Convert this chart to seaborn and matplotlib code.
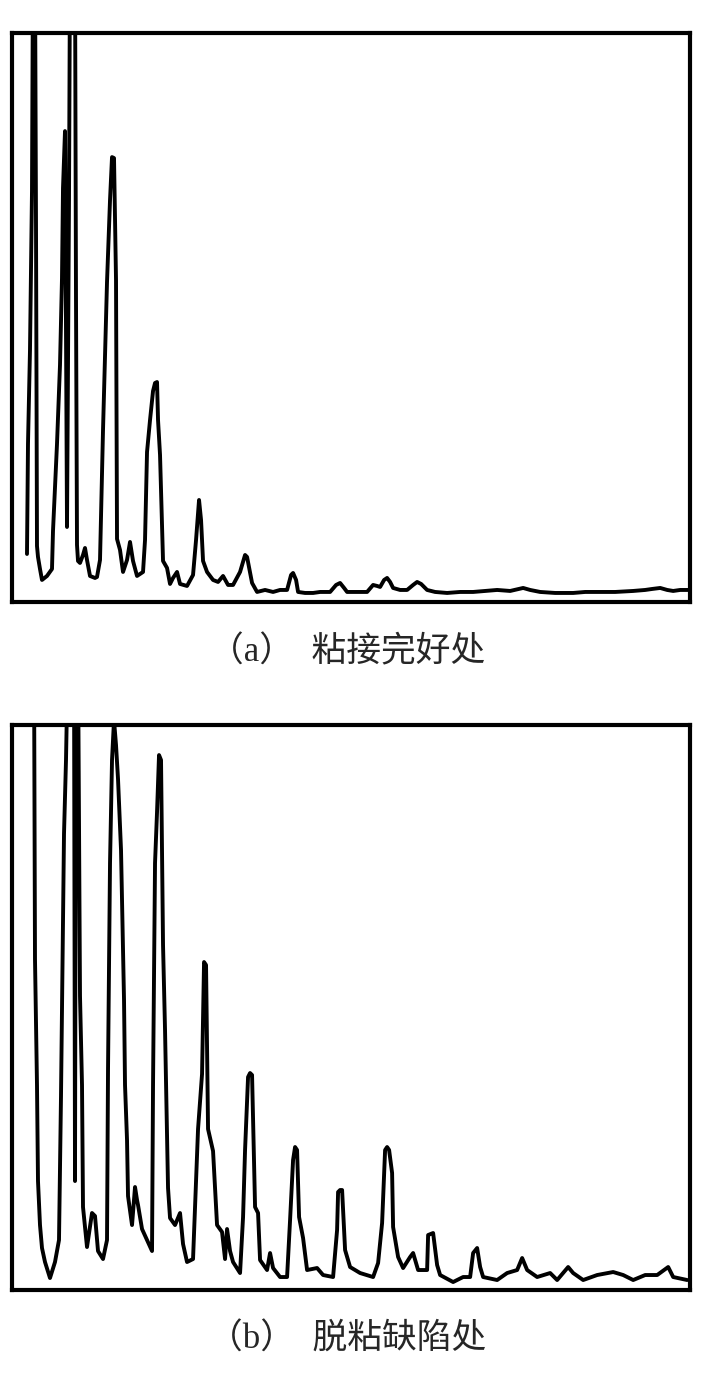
import numpy as np
import pandas as pd
import seaborn as sns
import matplotlib.pyplot as plt

# spectrum (a): well-bonded region  -- x = frequency bin, amp = amplitude
freq_a = [27, 28, 30, 32, 33, 35, 36, 37, 38, 40, 42, 47, 52, 53, 57, 60, 62, 63, 65,
          67, 69, 70, 75, 76, 77, 78, 80, 83, 85, 87, 90, 95, 97, 100, 103, 107, 110,
          112, 114, 116, 117, 120, 123, 127, 130, 133, 137, 143, 145, 147, 150, 153,
          155, 157, 158, 160, 163, 167, 170, 173, 177, 180, 187, 193, 196, 199, 201,
          203, 207, 213, 218, 223, 228, 233, 240, 245, 247, 252, 257, 265, 273, 280,
          287, 291, 293, 296, 298, 305, 313, 320, 330, 336, 340, 344, 347, 355, 367,
          373, 377, 380, 384, 387, 390, 393, 400, 407, 413, 417, 421, 427, 435, 447,
          460, 473, 485, 497, 510, 523, 530, 540, 555, 573, 585, 600, 615, 633, 645,
          652, 660, 667, 673, 680, 688]
amp_a = [48, 158, 252, 411, 640, 640, 380, 56, 45, 33, 22, 26, 33, 71, 158, 237, 324,
         414, 471, 75, 402, 640, 640, 302, 57, 41, 39, 47, 54, 42, 26, 24, 25, 42, 172,
         320, 402, 445, 444, 322, 63, 52, 30, 42, 60, 41, 26, 30, 62, 150, 182, 211,
         219, 220, 182, 147, 41, 34, 18, 24, 30, 18, 16, 27, 62, 102, 82, 41, 30, 22,
         20, 26, 17, 17, 30, 47, 45, 19, 10, 12, 10, 12, 12, 27, 29, 22, 10, 9, 9, 10,
         10, 17, 19, 14, 10, 10, 10, 17, 16, 15, 22, 24, 20, 14, 12, 12, 17, 20, 18,
         12, 10, 9, 10, 10, 11, 12, 11, 14, 12, 10, 9, 9, 10, 10, 10, 11, 12, 13, 14,
         12, 11, 12, 12]

# spectrum (b): debonded defect region
freq_b = [34, 35, 37, 38, 40, 42, 45, 50, 55, 59, 61, 64, 66, 68, 72, 74, 75, 76, 78,
          80, 82, 83, 87, 92, 95, 98, 103, 107, 108, 110, 112, 114, 116, 118, 121, 122,
          124, 125, 127, 128, 132, 135, 137, 138, 142, 147, 152, 153, 155, 157, 159,
          161, 162, 163, 165, 168, 170, 175, 180, 183, 187, 193, 196, 198, 202, 204,
          206, 208, 213, 217, 222, 225, 227, 230, 233, 240, 243, 245, 248, 250, 252,
          255, 258, 260, 267, 270, 273, 280, 287, 290, 293, 295, 297, 299, 303, 307,
          317, 323, 333, 337, 338, 340, 342, 345, 350, 360, 373, 378, 382, 385, 387,
          389, 392, 393, 398, 403, 410, 413, 418, 427, 428, 433, 437, 440, 453, 463,
          470, 473, 477, 480, 483, 497, 507, 517, 522, 527, 537, 550, 557, 568, 573,
          583, 597, 613, 623, 633, 645, 657, 668, 673, 687]
amp_b = [640, 331, 205, 109, 65, 42, 28, 12, 28, 50, 194, 456, 530, 640, 640, 640,
         109, 640, 640, 294, 205, 83, 43, 77, 74, 39, 31, 50, 220, 427, 530, 570, 545,
         511, 440, 390, 290, 205, 150, 94, 65, 103, 90, 85, 61, 50, 39, 205, 427, 478,
         535, 530, 435, 345, 260, 102, 72, 65, 77, 46, 28, 31, 110, 161, 216, 328, 325,
         161, 139, 65, 58, 31, 61, 39, 28, 17, 73, 140, 213, 217, 215, 83, 77, 30, 20,
         37, 22, 13, 13, 70, 130, 143, 140, 73, 52, 20, 22, 15, 13, 60, 98, 100, 100,
         40, 23, 17, 13, 27, 67, 140, 143, 140, 117, 63, 33, 22, 33, 37, 20, 20, 55, 57,
         25, 15, 8, 13, 13, 37, 42, 23, 13, 10, 17, 20, 32, 20, 13, 17, 10, 23, 17, 10,
         15, 18, 15, 10, 15, 15, 23, 13, 10]

captions = ['（a）  粘接完好处', '（b）  脱粘缺陷处']

sns.set_style('white')
plt.rcParams['font.family'] = ['Liberation Serif', 'Noto Sans CJK SC', 'DejaVu Sans']

fig = plt.figure(figsize=(7.05, 13.8), dpi=100)
ax_a = fig.add_axes([0.017, 0.5638, 0.962, 0.4122])
ax_b = fig.add_axes([0.017, 0.0652, 0.962, 0.4094])

df_a = pd.DataFrame({'freq': freq_a, 'amp': amp_a})
df_b = pd.DataFrame({'freq': freq_b, 'amp': amp_b})

for ax, df, top, cap, ycap in [(ax_a, df_a, 569, captions[0], 0.527),
                               (ax_b, df_b, 565, captions[1], 0.029)]:
    sns.lineplot(data=df, x='freq', y='amp', ax=ax, color='black',
                 linewidth=2.8, estimator=None, sort=False)
    ax.set_xlim(12, 690)
    ax.set_ylim(0, top)
    ax.set_xticks([])
    ax.set_yticks([])
    ax.set_xlabel('')
    ax.set_ylabel('')
    for s in ax.spines.values():
        s.set_color('black')
        s.set_linewidth(3)
    fig.text(0.493, ycap, cap, ha='center', va='center', fontsize=25)

fig.savefig('out.png', dpi=100)
